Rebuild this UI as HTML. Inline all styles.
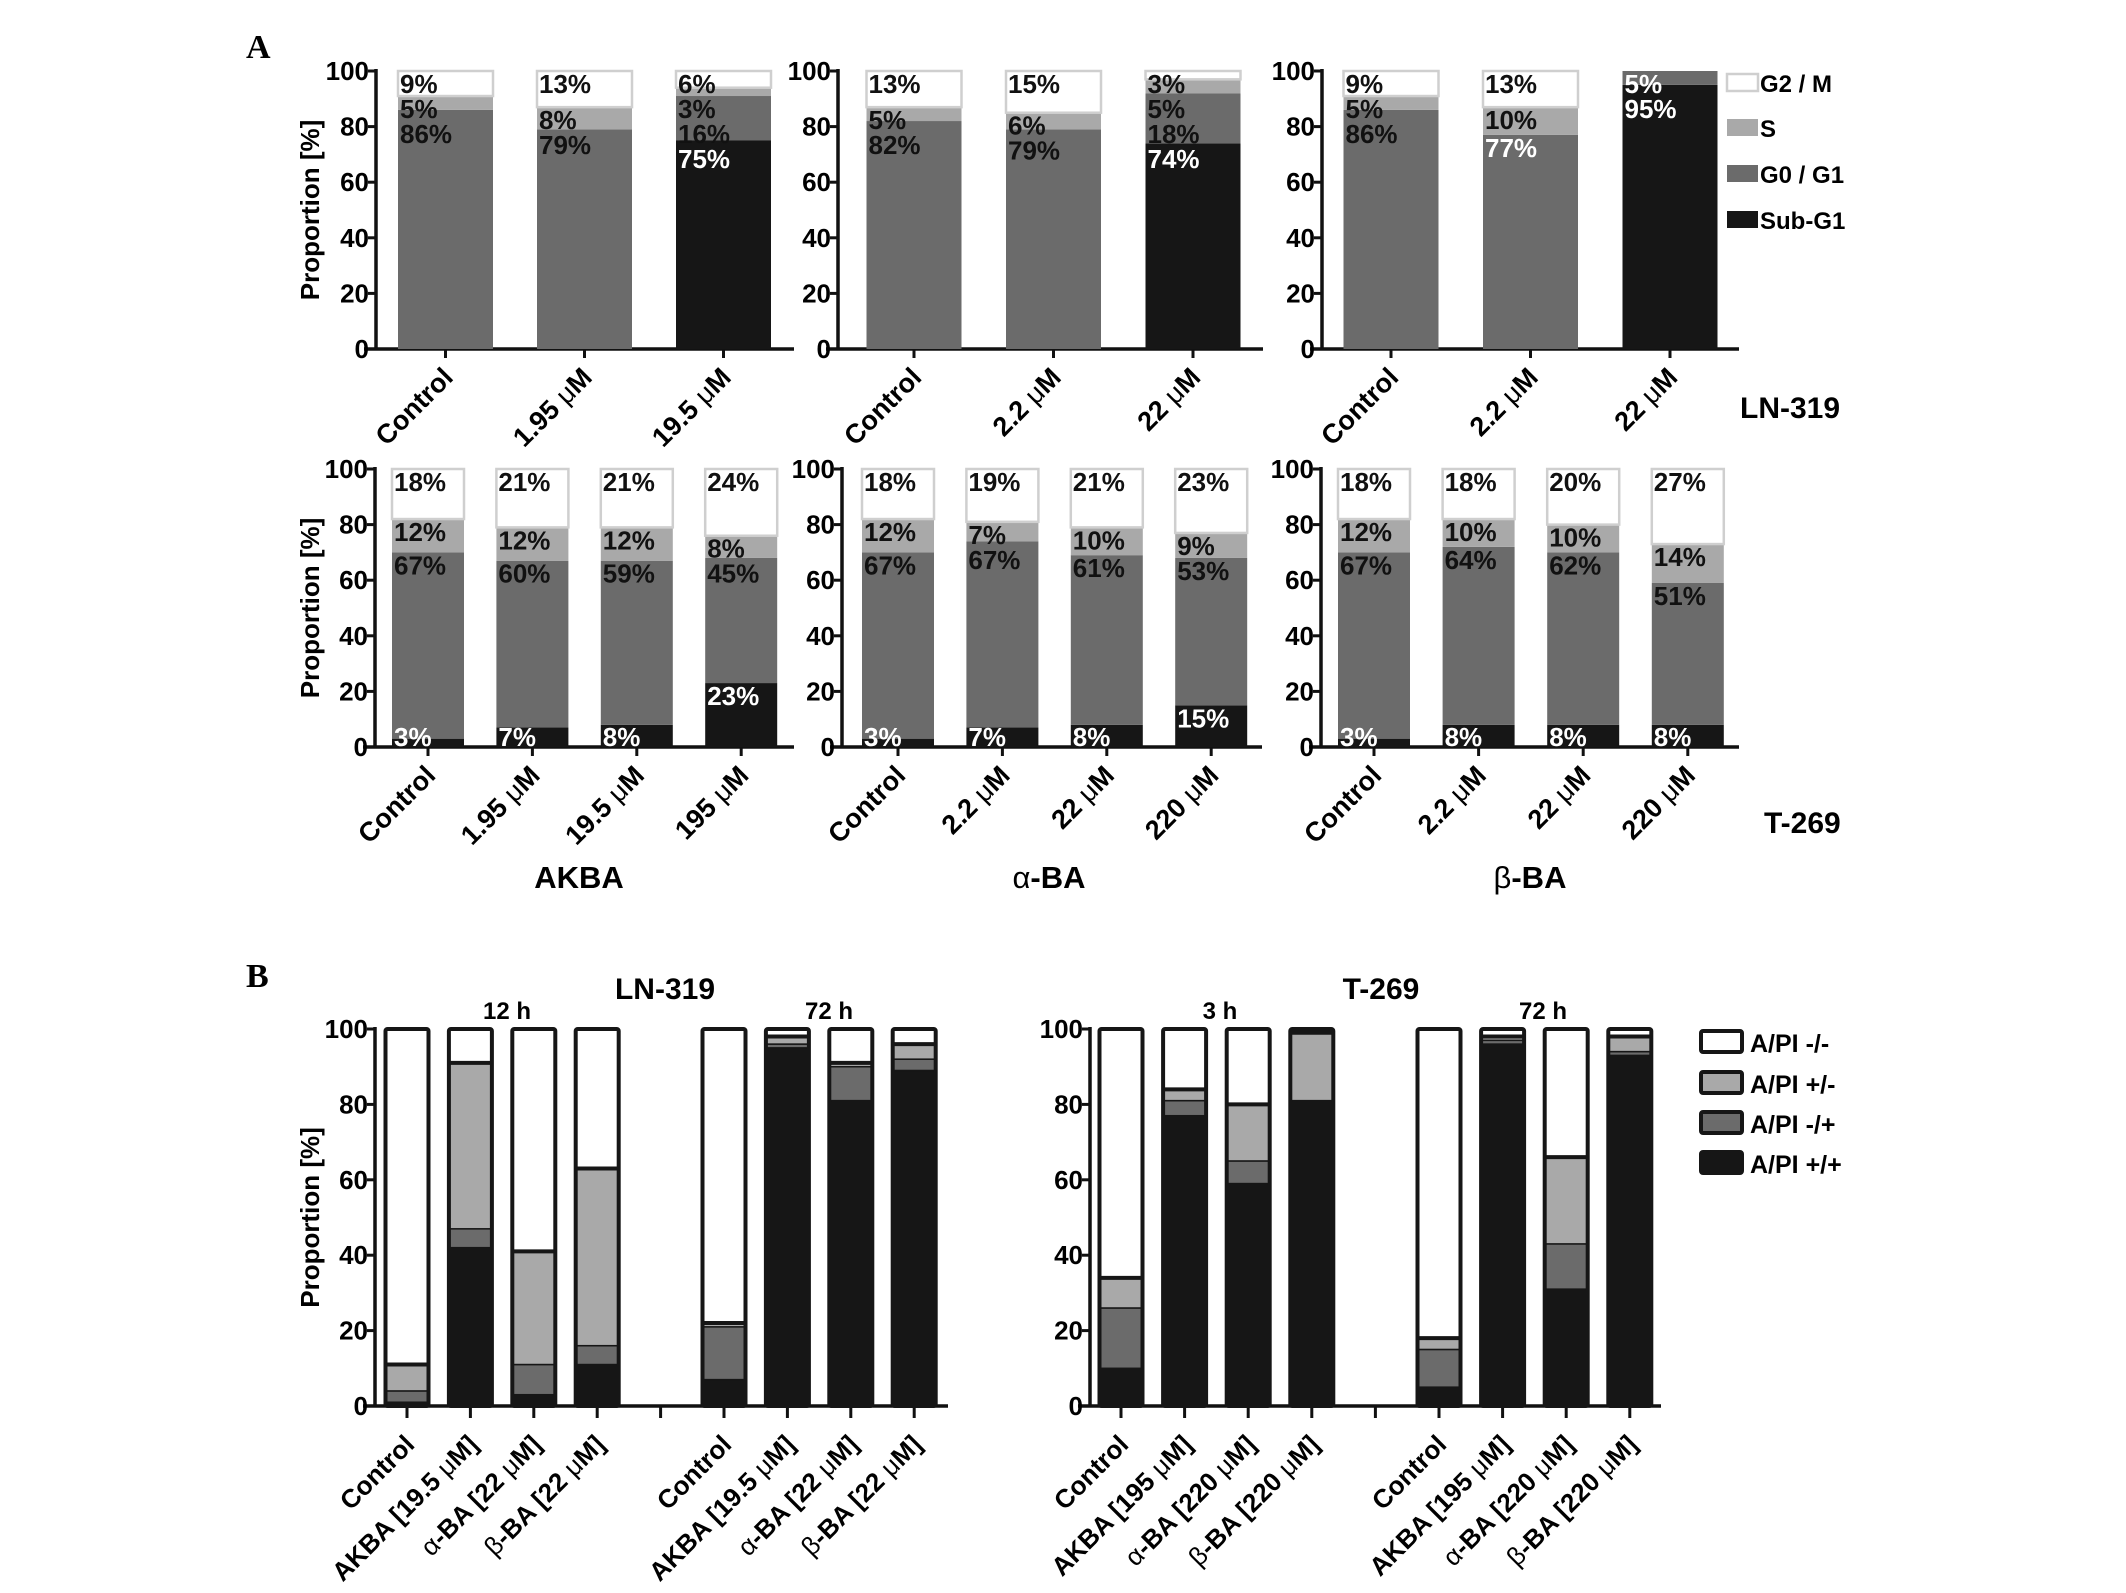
<!DOCTYPE html>
<html><head><meta charset="utf-8">
<style>
html,body{margin:0;padding:0;background:#fff;}
svg{display:block;}
text{font-family:"Liberation Sans",Arial,sans-serif;font-weight:bold;}
</style></head>
<body>
<svg id="fig" width="2126" height="1593" viewBox="0 0 2126 1593" xmlns="http://www.w3.org/2000/svg">
<text x="246" y="58" font-family="Liberation Serif" font-size="34" style="font-family:'Liberation Serif',serif">A</text>
<text x="246" y="987" font-size="34" style="font-family:'Liberation Serif',serif">B</text>
</svg>
<script>
// ===== Panel A data (cell cycle) =====
const catsA1 = ['Control','1.95 μM','19.5 μM'];
const subA1 = [0,0,75];
const g1A1 = [86,79,16];
const sA1 = [5,8,3];
const g2A1 = [9,13,6];

const catsA2 = ['Control','2.2 μM','22 μM'];
const subA2 = [0,0,74];
const g1A2 = [82,79,18];
const sA2 = [5,6,5];
const g2A2 = [13,15,3];

const catsA3 = ['Control','2.2 μM','22 μM'];
const subA3 = [0,0,95];
const g1A3 = [86,77,5];
const sA3 = [5,10,0];
const g2A3 = [9,13,0];

const catsA4 = ['Control','1.95 μM','19.5 μM','195 μM'];
const subA4 = [3,7,8,23];
const g1A4 = [67,60,59,45];
const sA4 = [12,12,12,8];
const g2A4 = [18,21,21,24];

const catsA5 = ['Control','2.2 μM','22 μM','220 μM'];
const subA5 = [3,7,8,15];
const g1A5 = [67,67,61,53];
const sA5 = [12,7,10,9];
const g2A5 = [18,19,21,23];

const catsA6 = ['Control','2.2 μM','22 μM','220 μM'];
const subA6 = [3,8,8,8];
const g1A6 = [67,64,62,51];
const sA6 = [12,10,10,14];
const g2A6 = [18,18,20,27];

const yTicks = [0,20,40,60,80,100];

// ===== Panel B data (apoptosis) =====
const catsB1 = ['Control','AKBA [19.5 μM]','α-BA [22 μM]','β-BA [22 μM]','','Control','AKBA [19.5 μM]','α-BA [22 μM]','β-BA [22 μM]'];
const ppB1 = [1,42,3,11,null,7,95,81,89];
const mpB1 = [3,5,8,5,null,14,1,9,3];
const pmB1 = [7,44,30,47,null,1,2,1,4];

const catsB2 = ['Control','AKBA [195 μM]','α-BA [220 μM]','β-BA [220 μM]','','Control','AKBA [195 μM]','α-BA [220 μM]','β-BA [220 μM]'];
const ppB2 = [10,77,59,81,null,5,96,31,93];
const mpB2 = [16,4,6,0,null,10,1,12,1];
const pmB2 = [8,3,15,18,null,3,1,23,4];

const NS = 'http://www.w3.org/2000/svg';
const svg = document.getElementById('fig');
function el(tag, attrs, parent){
  const e = document.createElementNS(NS, tag);
  for (const k in attrs) e.setAttribute(k, attrs[k]);
  (parent||svg).appendChild(e);
  return e;
}
function mulabel(t, str){
  const parts = str.split('μ');
  parts.forEach((p,i)=>{
    if(i>0){ const m = el('tspan',{'font-weight':'normal'},t); m.textContent='μ'; }
    const s = el('tspan',{},t); s.textContent = p;
  });
}
const C_G2='#ffffff', C_S='#a9a9a9', C_G1='#6b6b6b', C_SUB='#161616';

function yScale(y100,y0){ return v => y0 - (y0-y100)*v/100; }

function drawAxes(g, ax, axEnd, y100, y0, showTitle){
  const Y = yScale(y100,y0);
  const yl = el('line',{x1:ax,y1:y100-2,x2:ax,y2:y0+1.5,stroke:'#111','stroke-width':3.5},g);
   
  const xl = el('line',{x1:ax-12,y1:y0,x2:axEnd,y2:y0,stroke:'#111','stroke-width':3.5},g);
   
  yTicks.forEach(v=>{
    const tk = el('line',{x1:ax-8,y1:Y(v),x2:ax,y2:Y(v),stroke:'#111','stroke-width':3},g);
     
    const t = el('text',{x:ax-7,y:Y(v)+9,'text-anchor':'end','font-size':26},g);
     
    t.textContent = v;
  });
  if(showTitle){
    const cy=(y100+y0)/2;
    const t = el('text',{x:0,y:0,'text-anchor':'middle','font-size':26,transform:`translate(319,${cy}) rotate(-90)`},g);
     
    t.textContent='Proportion [%]';
  }
}

function drawA(cfg){
  const {cats,sub,g1,s,g2,ax,axEnd,x0,pitch,bw,y100,y0,title,whiteG1} = cfg;
  const Y = yScale(y100,y0);
  const g = el('g',{});
   
  drawAxes(g,ax,axEnd,y100,y0,title);
  cats.forEach((c,i)=>{
    const cx = x0 + i*pitch, bx = cx-bw/2;
    const segs = [[sub[i],C_SUB,'sub-g1'],[g1[i],C_G1,'g0-g1'],[s[i],C_S,'s-phase'],[g2[i],C_G2,'g2-m']];
    let acc=0; const tops=[];
    segs.forEach(([v,col,nm])=>{
      const yb=Y(acc), yt=Y(acc+v);
      if(v>0){
        const r = el('rect',{x:bx,y:yt,width:bw,height:yb-yt,fill:col},g);
        if(col===C_G2){ r.setAttribute('stroke','#cfcfcf'); r.setAttribute('stroke-width',2.5); }
         
      }
      tops.push(yt); acc+=v;
    });
    let prev=-1e9;
    const order=[3,2,1,0];
    order.forEach(k=>{
      const v=segs[k][0]; if(v<=0) return;
      let b=Math.max(tops[k]+22, prev+25);
      if(k===0) b=Math.min(y0-1,b);
      let color='#111';
      if(k===0 || (k===1 && whiteG1 && whiteG1[i])) color='#fff';
      const t=el('text',{x:bx+2,y:b,'font-size':26,fill:color},g);
       
      t.textContent=v+'%';
      prev=b;
    });
    const tk = el('line',{x1:cx,y1:y0,x2:cx,y2:y0+9,stroke:'#111','stroke-width':3},g);
     
    const t = el('text',{x:0,y:0,'text-anchor':'end','font-size':27,transform:`translate(${cx+9},${y0+30}) rotate(-45)`},g);
     
    mulabel(t,c);
  });
}

drawA({name:'chart-akba-ln319',cats:catsA1,sub:subA1,g1:g1A1,s:sA1,g2:g2A1,ax:376,axEnd:794,x0:445.5,pitch:139,bw:95,y100:71,y0:349,title:true});
drawA({name:'chart-aba-ln319',cats:catsA2,sub:subA2,g1:g1A2,s:sA2,g2:g2A2,ax:838,axEnd:1263,x0:914,pitch:139.5,bw:95,y100:71,y0:349});
drawA({name:'chart-bba-ln319',cats:catsA3,sub:subA3,g1:g1A3,s:sA3,g2:g2A3,ax:1322,axEnd:1739,x0:1391,pitch:139.5,bw:95,y100:71,y0:349,whiteG1:[false,true,true]});
drawA({name:'chart-akba-t269',cats:catsA4,sub:subA4,g1:g1A4,s:sA4,g2:g2A4,ax:375,axEnd:794,x0:428,pitch:104.4,bw:72,y100:469,y0:747,title:true});
drawA({name:'chart-aba-t269',cats:catsA5,sub:subA5,g1:g1A5,s:sA5,g2:g2A5,ax:842,axEnd:1262,x0:898,pitch:104.4,bw:72,y100:469,y0:747});
drawA({name:'chart-bba-t269',cats:catsA6,sub:subA6,g1:g1A6,s:sA6,g2:g2A6,ax:1321,axEnd:1739,x0:1374,pitch:104.6,bw:72,y100:469,y0:747});

const legA=[['G2 / M',C_G2],['S',C_S],['G0 / G1',C_G1],['Sub-G1',C_SUB]];
const legAtops=[74,119,165,211];
legA.forEach((l,i)=>{
  const r=el('rect',{x:1727,y:legAtops[i],width:31,height:17,fill:l[1]});
  if(l[1]===C_G2){r.setAttribute('stroke','#cfcfcf');r.setAttribute('stroke-width',2.5);}
   
  const t=el('text',{x:1760,y:legAtops[i]+18,'font-size':24});
   
  t.textContent=l[0];
});
function label(x,y,txt,size,name,anchor){
  const t=el('text',{x:x,y:y,'font-size':size,'text-anchor':anchor||'start'});
   
  mulabelGreek(t,txt); return t;
}
function mulabelGreek(t,str){
  const m=str.match(/^([αβ])(.*)$/);
  if(m){const a=el('tspan',{'font-weight':'normal'},t);a.textContent=m[1];const b=el('tspan',{},t);b.textContent=m[2];}
  else t.textContent=str;
}
label(1740,418,'LN-319',30,'cell-line-label-ln319');
label(1764,833,'T-269',30,'cell-line-label-t269');
label(579,888,'AKBA',31,'compound-label-akba','middle');
label(1049,888,'α-BA',31,'compound-label-aba','middle');
label(1530,888,'β-BA',31,'compound-label-bba','middle');

function drawB(cfg){
  const {cats,pp,mp,pm,ax,axEnd,x0,pitch,bw,y100,y0,title} = cfg;
  const Y=yScale(y100,y0);
  const g=el('g',{});
   
  drawAxes(g,ax,axEnd,y100,y0,title);
  cats.forEach((c,i)=>{
    const cx=x0+i*pitch, bx=cx-bw/2;
    const tk=el('line',{x1:cx,y1:y0,x2:cx,y2:y0+12,stroke:'#111','stroke-width':3},g);
     
    if(pp[i]===null) return;
    const wh=100-pp[i]-mp[i]-pm[i];
    const segs=[[pp[i],C_SUB,'a-pi-pos-pos'],[mp[i],C_G1,'a-pi-neg-pos'],[pm[i],C_S,'a-pi-pos-neg'],[wh,'#fff','a-pi-neg-neg']];
    let acc=0;
    segs.forEach(([v,col,nm])=>{
      if(v>0){
        const r=el('rect',{x:bx,y:Y(acc+v),width:bw,height:Y(acc)-Y(acc+v),fill:col,stroke:'#161616','stroke-width':1.5},g);
         
      }
      acc+=v;
    });
    const topC=pp[i]+mp[i]+pm[i];
    if(topC<100){
      const ln=el('line',{x1:bx,x2:bx+bw,y1:Y(topC),y2:Y(topC),stroke:'#161616','stroke-width':4},g);
       
    }
    const o=el('rect',{x:bx,y:Y(100),width:bw,height:y0-Y(100),fill:'none',stroke:'#161616','stroke-width':4,rx:2},g);
     
    const t=el('text',{x:0,y:0,'text-anchor':'end','font-size':26,transform:`translate(${cx+9},${y0+40}) rotate(-45)`},g);
     
    const m=c.match(/^([αβ])(.*)$/);
    if(m){const a=el('tspan',{'font-weight':'normal'},t);a.textContent=m[1];mulabel(t,m[2]);}
    else mulabel(t,c);
  });
}
drawB({name:'chart-apoptosis-ln319',cats:catsB1,pp:ppB1,mp:mpB1,pm:pmB1,ax:375,axEnd:948,x0:407,pitch:63.4,bw:43,y100:1029,y0:1406,title:true});
drawB({name:'chart-apoptosis-t269',cats:catsB2,pp:ppB2,mp:mpB2,pm:pmB2,ax:1090,axEnd:1661,x0:1121,pitch:63.6,bw:43,y100:1029,y0:1406});

label(665,999,'LN-319',30,'chart-title-ln319','middle');
label(1381,999,'T-269',30,'chart-title-t269','middle');
label(507,1019,'12 h',24,'time-label-12h','middle');
label(829,1019,'72 h',24,'time-label-72h-ln319','middle');
label(1220,1019,'3 h',24,'time-label-3h','middle');
label(1543,1019,'72 h',24,'time-label-72h-t269','middle');

const legB=[['A/PI -/-','#fff'],['A/PI +/-',C_S],['A/PI -/+',C_G1],['A/PI +/+',C_SUB]];
const legBtops=[1031,1072,1112,1152];
legB.forEach((l,i)=>{
  const r=el('rect',{x:1701,y:legBtops[i],width:41,height:21,fill:l[1],stroke:'#161616','stroke-width':4,rx:2});
   
  const t=el('text',{x:1750,y:legBtops[i]+21,'font-size':25});
   
  t.textContent=l[0];
});
</script>
</body></html>
